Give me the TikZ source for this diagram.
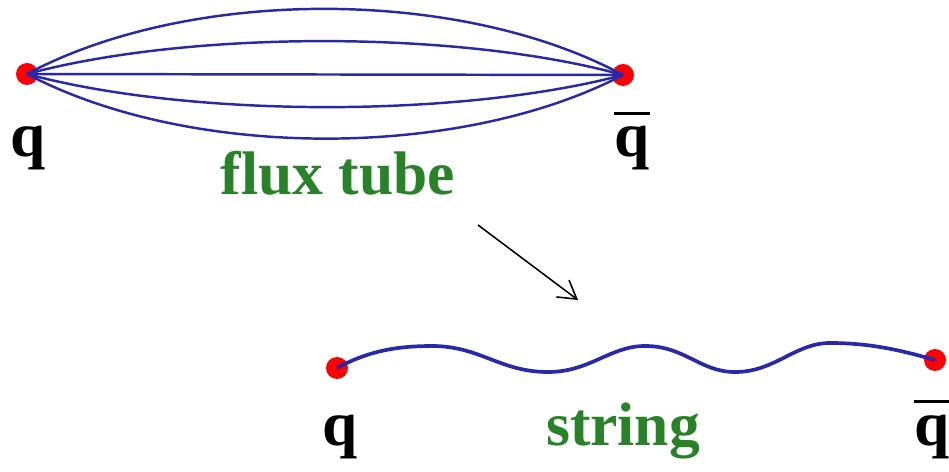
\documentclass[tikz,border=0pt]{standalone}
\usepackage{fontspec}
\setmainfont{Liberation Serif}
\usetikzlibrary{arrows.meta}
\definecolor{fluxblue}{RGB}{40,40,170}
\definecolor{labgreen}{RGB}{40,130,40}
\newcommand\myqbar{\leavevmode\vbox{\hrule height 1.7pt\kern 6.5pt\hbox{q}}}
\tikzset{
  quark/.style={circle,fill=red,draw=none,inner sep=0pt,minimum size=0.44cm},
  fline/.style={draw=fluxblue,line width=1.4pt},
  sline/.style={draw=fluxblue,line width=2.1pt},
  qlab/.style={font=\fontsize{36}{40}\selectfont\bfseries,inner sep=0pt,anchor=base},
  glab/.style={font=\fontsize{35}{40}\selectfont\bfseries,text=labgreen,inner sep=0pt,anchor=base},
}
\begin{document}
\begin{tikzpicture}[x=0.02cm,y=-0.02cm]
\useasboundingbox (0,0) rectangle (949,472);
% flux tube
\node[quark] (q1) at (27,74) {};
\node[quark] (q2) at (623,75) {};
\draw[fline] (q1.center) .. controls (190,-13) and (460,-13) .. (q2.center);
\draw[fline] (q1.center) .. controls (190,30) and (460,30) .. (q2.center);
\draw[fline] (q1.center) -- (q2.center);
\draw[fline] (q1.center) .. controls (190,118) and (460,118) .. (q2.center);
\draw[fline] (q1.center) .. controls (190,160) and (460,160) .. (q2.center);
\node[qlab] (lq1) at (28,157) {q};
\node[qlab] (lq2) at (632,157) {\myqbar};
\node[glab] (ft) at (338,195) {flux tube};
% arrow
\coordinate (a1) at (478,225);
\coordinate (a2) at (578,300);
\draw[line width=0.9pt,-{Straight Barb[length=10pt,width=12pt]}] (a1) -- (a2);
% string
\node[quark] (q3) at (337,368) {};
\node[quark] (q4) at (935,360) {};
\draw[sline] (q3.center) .. controls (370,350) and (400,346) .. (432,346)
  .. controls (480,346) and (500,372) .. (548,372)
  .. controls (590,372) and (610,346) .. (645,346)
  .. controls (685,346) and (700,372) .. (735,372)
  .. controls (775,372) and (795,343) .. (830,343)
  .. controls (870,343) and (900,350) .. (q4.center);
\node[qlab] (lq3) at (340,445) {q};
\node[qlab] (lq4) at (932,445) {\myqbar};
\node[glab] (st) at (623,445) {string};
\end{tikzpicture}
\end{document}
